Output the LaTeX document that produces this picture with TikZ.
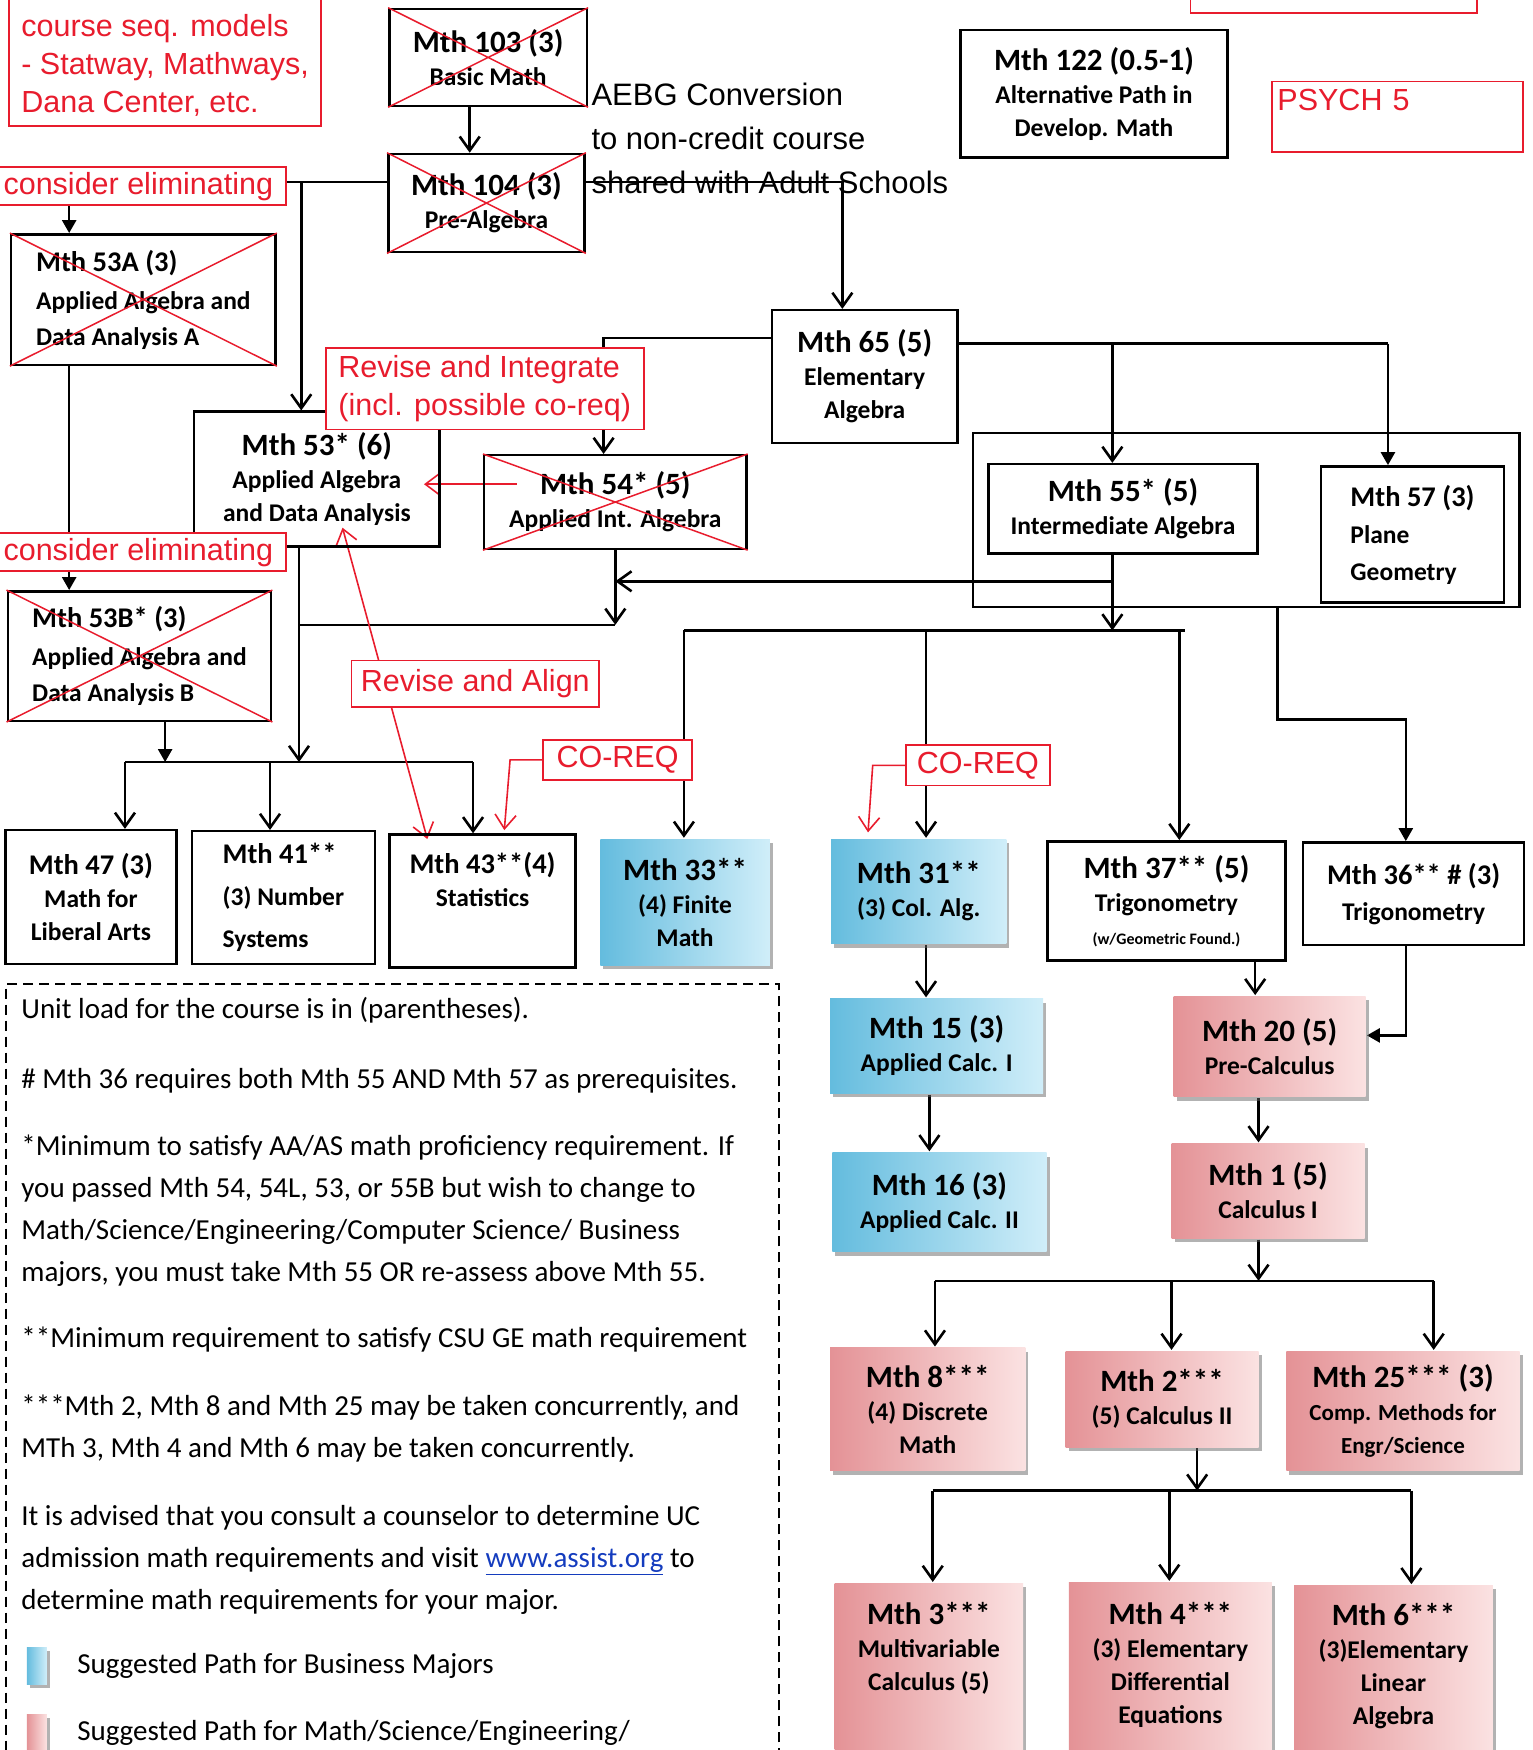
\documentclass[tikz,border=0pt]{standalone}
\usepackage{fontspec}
\setmainfont{Carlito}
\newfontfamily\arialfont{Liberation Sans}
\usetikzlibrary{positioning,arrows.meta,shadows}
\definecolor{annot}{RGB}{232,28,45}
\definecolor{bizdark}{RGB}{100,188,222}
\definecolor{bizlight}{RGB}{208,238,249}
\definecolor{scidark}{RGB}{228,146,150}
\definecolor{scilight}{RGB}{251,226,226}
\definecolor{linkblue}{RGB}{20,60,190}

\newcommand{\ctitle}[1]{{\fontsize{31}{34}\selectfont #1}}
\newcommand{\stitle}[1]{{\fontsize{28.5}{32}\selectfont #1}}
\newcommand{\smallsub}[1]{{\fontsize{23}{30}\selectfont #1}}

\pgfdeclarelayer{bg}
\pgfsetlayers{bg,main}

\tikzset{
  cell/.style args={#1/#2/#3/#4}{minimum width={(#3-#1)*1.1157pt}, minimum height={(#4-#2)*1.1157pt}, at={({(#1+#3)/2},{(#2+#4)/2})}},
  course/.style={draw, line width=2.5pt, inner sep=0pt, align=center, font=\fontsize{25.5}{33}\selectfont\bfseries},
  biz/.style={course, draw=none, left color=bizdark, right color=bizlight, drop shadow={shadow xshift=3pt, shadow yshift=-4pt, opacity=.5, fill=black!60}},
  sci/.style={course, draw=none, left color=scidark, right color=scilight, drop shadow={shadow xshift=3pt, shadow yshift=-4pt, opacity=.5, fill=black!60}},
  group/.style={draw, line width=2.5pt, inner sep=0pt},
  note/.style={draw=annot, line width=1.8pt, fill=white, text=annot, inner sep=0pt, font=\arialfont\fontsize{30.5}{38}\selectfont},
  keybox/.style={draw, line width=2pt, dash pattern=on 10pt off 6pt, inner sep=0pt},
  notes/.style={font=\fontsize{29}{42}\selectfont, align=left, inner sep=0pt, anchor=north west},
  xline/.style={annot, line width=1.5pt},
  link/.style={line width=2.6pt},
  arr/.style={link, -{Straight Barb[length=14pt,width=20pt]}},
  farr/.style={link, -{Triangle[length=13pt,width=14pt]}},
  rarr/.style={annot, line width=1.6pt, -{Straight Barb[length=14pt,width=21pt]}},
  rboth/.style={annot, line width=1.6pt, {Straight Barb[length=14pt,width=21pt]}-{Straight Barb[length=14pt,width=21pt]}}
}

\begin{document}
\begin{tikzpicture}[x=1.1157pt, y=-1.1157pt]
\useasboundingbox (0,0) rectangle (1374,1568.5);

% top row
\node[note, cell=8/-7/288/113, align=left, text height=111pt] (seqbox) {course seq. models\\- Statway, Mathways,\\Dana Center, etc.};
\node[note, cell=1067/-20/1324/12] (cutbox) {};
\node[note, cell=1140/73/1365/136, text width=240pt, align=left, text height=22pt, text depth=34pt] (psych) {PSYCH 5};
\node[course, cell=349/8/526/95] (m103) {\ctitle{Mth 103 (3)}\\Basic Math};
\node[course, cell=348/138/524/226] (m104) {\ctitle{Mth 104 (3)}\\Pre-Algebra};
\node[course, cell=861/27/1100/141] (m122) {\ctitle{Mth 122 (0.5-1)}\\Alternative Path in\\Develop. Math};
\node[font=\arialfont\fontsize{31}{44}\selectfont, align=left, anchor=north west, inner sep=0pt] (aebg) at (530,74) {AEBG Conversion\\to non-credit course\\shared with Adult Schools};

% developmental courses
\node[course, cell=10/210/247/327, align=left] (m53A) {\stitle{Mth 53A (3)}\\[5pt]Applied Algebra and\\[3pt]Data Analysis A};
\node[course, cell=692/278/858/397] (m65) {\ctitle{Mth 65 (5)}\\Elementary\\Algebra};
\node[course, cell=174/369/394/490] (m53) {\ctitle{Mth 53* (6)}\\Applied Algebra\\and Data Analysis};
\node[course, cell=434/408/669/492] (m54) {\ctitle{Mth 54* (5)}\\Applied Int. Algebra};
\node[group, cell=872/388/1362/544] (grp) {};
\node[course, cell=886/416/1127/496] (m55) {\ctitle{Mth 55* (5)}\\Intermediate Algebra};
\node[course, cell=1184/418/1348/540, align=left] (m57) {\stitle{Mth 57 (3)}\\[4pt]Plane\\[4pt]Geometry};
\node[course, cell=7/530/243/646, align=left] (m53B) {\stitle{Mth 53B* (3)}\\[5pt]Applied Algebra and\\[3pt]Data Analysis B};

% transfer level
\node[course, cell=5/744/158/864] (m47) {\stitle{Mth 47 (3)}\\Math for\\Liberal Arts};
\node[course, cell=172/745/336/864, align=left] (m41) {\stitle{Mth 41**}\\[9pt](3) Number\\[9pt]Systems};
\node[course, cell=349/748/516/867, text depth=44pt] (m43) {\stitle{Mth 43**(4)}\\Statistics};
\node[biz, cell=538/752/690/865] (m33) {\ctitle{Mth 33**}\\(4) Finite\\Math};
\node[biz, cell=745/752/902/846] (m31) {\ctitle{Mth 31**}\\(3) Col. Alg.};
\node[course, cell=939/754/1152/861] (m37) {\ctitle{Mth 37** (5)}\\Trigonometry\\{\fontsize{16}{18}\selectfont (w/Geometric Found.)}};
\node[course, cell=1168/755/1366/847] (m36) {\stitle{Mth 36** \# (3)}\\[3pt]Trigonometry};
\node[biz, cell=744/895/935/980] (m15) {\ctitle{Mth 15 (3)}\\Applied Calc. I};
\node[sci, cell=1052/893/1224/983] (m20) {\ctitle{Mth 20 (5)}\\Pre-Calculus};
\node[biz, cell=746/1033/938/1122] (m16) {\ctitle{Mth 16 (3)}\\Applied Calc. II};
\node[sci, cell=1050/1025/1223/1110] (m1) {\ctitle{Mth 1 (5)}\\Calculus I};
\node[sci, cell=744/1208/919/1318] (m8) {\ctitle{Mth 8***}\\(4) Discrete\\Math};
\node[sci, cell=955/1211/1128/1297] (m2) {\ctitle{Mth 2***}\\(5) Calculus II};
\node[sci, cell=1153/1211/1362/1318] (m25) {\ctitle{Mth 25*** (3)}\\\smallsub{Comp. Methods for}\\\smallsub{Engr/Science}};
\node[sci, cell=748/1419/917/1600, text depth=76pt] (m3) {\ctitle{Mth 3***}\\Multivariable\\Calculus (5)};
\node[sci, cell=958/1418/1140/1600, text depth=42pt] (m4) {\ctitle{Mth 4***}\\(3) Elementary\\Differential\\Equations};
\node[sci, cell=1160/1421/1338/1600, text depth=42pt] (m6) {\ctitle{Mth 6***}\\(3)Elementary\\Linear\\Algebra};

% notes and key
\node[keybox, cell=5/882/698/1600] (keyframe) {};
\node[notes] (notetext) at (19,894) {Unit load for the course is in (parentheses).\\[28pt]
\# Mth 36 requires both Mth 55 AND Mth 57 as prerequisites.\\[25pt]
*Minimum to satisfy AA/AS math proficiency requirement. If\\
you passed Mth 54, 54L, 53, or 55B but wish to change to\\
Math/Science/Engineering/Computer Science/ Business\\
majors, you must take Mth 55 OR re-assess above Mth 55.\\[24pt]
**Minimum requirement to satisfy CSU GE math requirement\\[26pt]
***Mth 2, Mth 8 and Mth 25 may be taken concurrently, and\\
MTh 3, Mth 4 and Mth 6 may be taken concurrently.\\[26pt]
It is advised that you consult a counselor to determine UC\\
admission math requirements and visit {\color{linkblue}\underline{www.assist.org}} to\\
determine math requirements for your major.};
\node[biz, minimum width=20pt, minimum height=37pt] (bizkey) at (33,1493) {};
\node[right=29pt of bizkey, inner sep=0pt, font=\fontsize{29}{34}\selectfont] (bizlabel) {Suggested Path for Business Majors};
\node[sci, minimum width=20pt, minimum height=37pt] (scikey) at (33,1553) {};
\node[right=29pt of scikey, inner sep=0pt, font=\fontsize{29}{34}\selectfont] (scilabel) {Suggested Path for Math/Science/Engineering/};

% annotations on top
\node[note, cell=-8/150/256/184] (con1) {consider eliminating};
\node[note, cell=-8/478/256/512] (con2) {consider eliminating};
\node[note, cell=292/312/577/385, align=left] (revint) {Revise and Integrate\\(incl. possible co-req)};
\node[note, cell=315/592/537/634] (revalign) {Revise and Align};
\node[note, cell=487/663/620/699] (coreq1) {CO-REQ};
\node[note, cell=812/668/941/704] (coreq2) {CO-REQ};

\foreach \n in {m103,m104,m53A,m54,m53B}
  \draw[xline] (\n.north west) -- (\n.south east) (\n.south west) -- (\n.north east);

\begin{pgfonlayer}{bg}
% upper part
\coordinate (jC) at (421,0);
\draw[arr] (jC |- m103.south) -- (jC |- m104.north);
\coordinate (jA) at (755,163);
\coordinate (jB) at (270,163);
\draw[arr] (m104.east |- jA) -- (jA) -- (jA |- m65.north);
\draw[link] (m104.west |- jB) -- (con1.east |- jB);
\draw[arr] (jB) -- (jB |- m53.north);
\coordinate (jD) at (62,0);
\draw[farr] (jD |- con1.south) -- (jD |- m53A.north);
\draw[link] (jD |- m53A.south) -- (jD |- con2.north);
\draw[farr] (jD |- con2.south) -- (jD |- m53B.north);
\coordinate (jE) at (541,303);
\draw[arr] (m65.west |- jE) -- (jE) -- (jE |- m54.north);
\coordinate (jF) at (1244,308);
\coordinate (jG) at (997,308);
\draw[link] (m65.east |- jF) -- (jF);
\draw[farr] (jF) -- (jF |- m57.north);
\draw[arr] (jG) -- (jG |- m55.north);

% middle part
\coordinate (jH) at (997,565);
\coordinate (jI) at (997,521);
\coordinate (jL) at (268,560);
\draw[arr] (jG |- m55.south) -- (jH);
\draw[arr] (jI) -- (jI -| m54.south);
\draw[arr] (m54.south) -- (m54.south |- jL);
\draw[link] (jL) -- (m54.south |- jL);
\coordinate (bar1) at (112,683);
\coordinate (bar1e) at (424,683);
\draw[link] (bar1) -- (bar1e);
\draw[arr] (jL |- m53.south) -- (jL |- bar1);
\coordinate (jN) at (148,683);
\draw[farr] (jN |- m53B.south) -- (jN);
\foreach \n/\x in {m47/112,m41/242,m43/424} {
  \coordinate (d) at (\x,683);
  \draw[arr] (d) -- (d |- \n.north);
}
\coordinate (bar2) at (613,565);
\coordinate (bar2e) at (1062,565);
\draw[link] (bar2) -- (bar2e);
\foreach \n/\x in {m33/613,m31/830,m37/1057} {
  \coordinate (d) at (\x,565);
  \draw[arr] (d) -- (d |- \n.north);
}
\coordinate (jO) at (1145,645);
\coordinate (jP) at (1260,645);
\draw[farr] (jO |- grp.south) -- (jO) -- (jP) -- (jP |- m36.north);

% lower part
\coordinate (jQ) at (830,0);
\coordinate (jR) at (833,0);
\coordinate (jS) at (1125,0);
\draw[arr] (jQ |- m31.south) -- (jQ |- m15.north);
\draw[arr] (jR |- m15.south) -- (jR |- m16.north);
\draw[arr] (jS |- m37.south) -- (jS |- m20.north);
\coordinate (jT) at (1260,928);
\draw[farr] (jT |- m36.south) -- (jT) -- (m20.east |- jT);
\coordinate (jU) at (1128,1148);
\draw[arr] (jU |- m20.south) -- (jU |- m1.north);
\draw[arr] (jU |- m1.south) -- (jU);
\coordinate (bar3) at (838,1148);
\coordinate (bar3e) at (1285,1148);
\draw[link] (bar3) -- (bar3e);
\foreach \n/\x in {m8/838,m2/1050,m25/1285} {
  \coordinate (d) at (\x,1148);
  \draw[arr] (d) -- (d |- \n.north);
}
\coordinate (jV) at (1073,1336);
\draw[arr] (jV |- m2.south) -- (jV);
\coordinate (bar4) at (836,1336);
\coordinate (bar4e) at (1265,1336);
\draw[link] (bar4) -- (bar4e);
\foreach \n/\x in {m3/836,m4/1048,m6/1265} {
  \coordinate (d) at (\x,1336);
  \draw[arr] (d) -- (d |- \n.north);
}

% red remarks
\coordinate (rA) at (463,434);
\coordinate (rB) at (380,434);
\draw[rarr] (rA) -- (rB);
\coordinate (rC) at (307,473);
\coordinate (rD) at (383,752);
\draw[rboth] (rC) -- (rD);
\coordinate (rE) at (452,744);
\coordinate (rF) at (778,746);
\draw[rarr] (coreq1.west) -- ++(-29,0) -- (rE);
\draw[rarr] (coreq2.west) -- ++(-29,0) -- (rF);
\end{pgfonlayer}
\end{tikzpicture}
\end{document}
